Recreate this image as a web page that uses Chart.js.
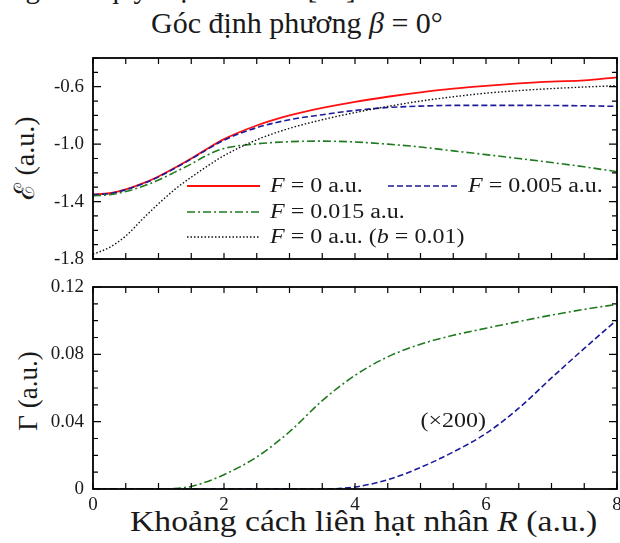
<!DOCTYPE html>
<html>
<head>
<meta charset="utf-8">
<script src="https://cdn.jsdelivr.net/npm/chart.js@4.4.1/dist/chart.umd.min.js"></script>
<style>
	body { margin: 0; width: 620px; height: 543px; overflow: hidden; background: #fff; position: relative; font-family: "Liberation Serif", "DejaVu Serif", serif; color: #1a1a1a; }
	.txt { position: absolute; white-space: nowrap; line-height: 1; }
	canvas { position: absolute; left: 0; }
	#topWrap { position: absolute; left: 0; top: 40px; width: 620px; height: 235px; }
	#botWrap { position: absolute; left: 0; top: 275px; width: 620px; height: 268px; }
</style>
</head>
<body>
<div class="txt" style="right:257px; top:-26px; font-size:29px;">ng theo quy luật hàm mũ [18].</div>
<div class="txt" style="left:151px; top:8px; font-size:30px;">Góc định phương <i>β</i> = 0°</div>
<div class="txt" style="left:25px; top:158px; font-size:28px; transform:translate(-50%,-50%) rotate(-90deg);">ℰ (a.u.)</div>
<div class="txt" style="left:28px; top:391px; font-size:27px; transform:translate(-50%,-50%) rotate(-90deg);">Γ (a.u.)</div>
<div class="txt" id="xTitle" style="left:130px; top:506px; font-size:30px; transform-origin:left top;">Khoảng cách liên hạt nhân <i>R</i> (a.u.)</div>

<div id="topWrap"><canvas id="energy"></canvas></div>
<div id="botWrap"><canvas id="width"></canvas></div>

<script>
// R (a.u.) sampling used for the curves
const rTop = [0, 0.25, 0.5, 0.75, 1, 1.25, 1.5, 1.75, 2, 2.5, 3, 3.5, 4, 4.5, 5, 5.5, 6, 6.5, 7, 7.5, 8];
const energyF0 = [-1.350, -1.342, -1.315, -1.275, -1.225, -1.165, -1.100, -1.030, -0.965, -0.870, -0.800, -0.748, -0.705, -0.670, -0.640, -0.614, -0.594, -0.577, -0.564, -0.556, -0.535];
const energyF005 = [-1.352, -1.344, -1.318, -1.278, -1.228, -1.168, -1.103, -1.035, -0.972, -0.885, -0.830, -0.795, -0.765, -0.745, -0.735, -0.730, -0.730, -0.730, -0.731, -0.733, -0.737];
const energyF015 = [-1.360, -1.352, -1.330, -1.295, -1.250, -1.195, -1.138, -1.075, -1.030, -0.998, -0.983, -0.979, -0.985, -1.000, -1.020, -1.047, -1.073, -1.100, -1.128, -1.158, -1.192];
const energyB001 = [-1.767, -1.720, -1.640, -1.525, -1.415, -1.315, -1.230, -1.152, -1.080, -0.970, -0.890, -0.830, -0.780, -0.737, -0.700, -0.670, -0.645, -0.627, -0.613, -0.602, -0.593];

const rBottom = [0, 0.5, 1, 1.25, 1.5, 1.75, 2, 2.5, 3, 3.5, 4, 4.5, 5, 5.5, 6, 6.5, 7, 7.5, 8];
const gammaF015 = [0, 0, 0, 0.0003, 0.0015, 0.0045, 0.0085, 0.019, 0.034, 0.0525, 0.0675, 0.0785, 0.086, 0.0913, 0.0955, 0.0995, 0.1033, 0.1067, 0.1097];
const gammaF005x200 = [0, 0, 0, 0, 0, 0, 0, 0, 0, 0, 0.0012, 0.0055, 0.0128, 0.022, 0.033, 0.048, 0.066, 0.0835, 0.1005];

const topYTicks = [-1.8, -1.4, -1.0, -0.6];
const bottomYTicks = [0, 0.04, 0.08, 0.12];
const xTickLabels = [0, 2, 4, 6, 8];
const legendLabels = [
	[["F", "italic"], [" = 0 a.u.", "normal"]],
	[["F", "italic"], [" = 0.005 a.u.", "normal"]],
	[["F", "italic"], [" = 0.015 a.u.", "normal"]],
	[["F", "italic"], [" = 0 a.u. (", "normal"], ["b", "italic"], [" = 0.01)", "normal"]],
];
const noteText = "(×200)";

const RED = "#ff1010";
const BLUE = "#1a1a9a";
const GREEN = "#1f7a1f";
const BLACK = "#111";
const serif = '"Liberation Serif", "DejaVu Serif", serif';

function points(xs, ys) {
	return xs.map((x, i) => ({ x: x, y: ys[i] }));
}

function line(data, color, dash, width) {
	return {
		data: data,
		borderColor: color,
		borderDash: dash,
		borderWidth: width,
		pointRadius: 0,
		fill: false,
		cubicInterpolationMode: "monotone",
	};
}

function range(from, to, step) {
	const out = [];
	for (let v = from; v <= to + 1e-9; v += step) out.push(Math.round(v * 1000) / 1000);
	return out;
}

// inward tick marks on all four sides plus the box
const framePlugin = {
	id: "frame",
	afterDatasetsDraw(chart, args, opts) {
		const { ctx, chartArea: a, scales } = chart;
		const x = scales.x;
		const y = scales.y;
		ctx.save();
		ctx.strokeStyle = "#000";
		ctx.lineWidth = 1.2;
		ctx.beginPath();
		for (const v of opts.xMinor) {
			const px = x.getPixelForValue(v);
			ctx.moveTo(px, a.bottom);
			ctx.lineTo(px, a.bottom - 6);
			ctx.moveTo(px, a.top);
			ctx.lineTo(px, a.top + 6);
		}
		for (const v of opts.yMinor) {
			const py = y.getPixelForValue(v);
			const len = opts.yMajor.some((m) => Math.abs(m - v) < 1e-6) ? 8 : 5;
			ctx.moveTo(a.left, py);
			ctx.lineTo(a.left + len, py);
			ctx.moveTo(a.right, py);
			ctx.lineTo(a.right - len, py);
		}
		ctx.stroke();
		ctx.lineWidth = 1.8;
		ctx.strokeRect(a.left, a.top, a.right - a.left, a.bottom - a.top);
		ctx.restore();
	},
};

function drawRich(ctx, segs, x, y, size, stretch) {
	ctx.save();
	ctx.translate(x, y);
	ctx.scale(stretch, 1);
	let cx = 0;
	for (const [txt, style] of segs) {
		ctx.font = style + " " + size + "px " + serif;
		ctx.fillText(txt, cx, 0);
		cx += ctx.measureText(txt).width;
	}
	ctx.restore();
}

const legendPlugin = {
	id: "legendBox",
	afterDraw(chart) {
		const ctx = chart.ctx;
		const rows = [
			{ x0: 187, x1: 260, tx: 270, y: 146, color: RED, dash: [], w: 1.8 },
			{ x0: 388, x1: 460, tx: 468, y: 146, color: BLUE, dash: [6, 3], w: 1.6 },
			{ x0: 187, x1: 260, tx: 270, y: 172, color: GREEN, dash: [8, 3, 2, 3], w: 1.6 },
			{ x0: 187, x1: 260, tx: 270, y: 197, color: BLACK, dash: [1.5, 2], w: 1.4 },
		];
		ctx.save();
		rows.forEach((r, i) => {
			ctx.strokeStyle = r.color;
			ctx.lineWidth = r.w;
			ctx.setLineDash(r.dash);
			ctx.beginPath();
			ctx.moveTo(r.x0, r.y);
			ctx.lineTo(r.x1, r.y);
			ctx.stroke();
			ctx.fillStyle = "#1a1a1a";
			ctx.textBaseline = "middle";
			drawRich(ctx, legendLabels[i], r.tx, r.y + 1, 20, 1.2);
		});
		ctx.restore();
	},
};

const notePlugin = {
	id: "note",
	afterDraw(chart) {
		const { ctx, scales } = chart;
		const px = scales.x.getPixelForValue(5.5);
		const py = scales.y.getPixelForValue(0.04);
		ctx.save();
		ctx.fillStyle = "#1a1a1a";
		ctx.textBaseline = "middle";
		ctx.font = "20px " + serif;
		const w = ctx.measureText(noteText).width * 1.2;
		drawRich(ctx, [[noteText, "normal"]], px - w / 2, py, 20, 1.2);
		ctx.restore();
	},
};

const tickFont = { family: serif, size: 19 };

function yScale(min, max, ticksList, fmt) {
	return {
		type: "linear",
		min: min,
		max: max,
		afterBuildTicks(s) {
			s.ticks = ticksList.map((v) => ({ value: v }));
		},
		afterFit(s) {
			s.width = 93;
			s.paddingTop = 0;
			s.paddingBottom = 0;
		},
		ticks: { font: tickFont, color: "#1a1a1a", padding: 9, callback: fmt },
		grid: { display: false, drawTicks: false },
		border: { display: false },
	};
}

function drawCharts() {
	new Chart(document.getElementById("energy"), {
		type: "line",
		data: {
			datasets: [
				line(points(rTop, energyB001), BLACK, [1.5, 2], 1.4),
				line(points(rTop, energyF015), GREEN, [8, 3, 2, 3], 1.6),
				line(points(rTop, energyF005), BLUE, [6, 3], 1.6),
				line(points(rTop, energyF0), RED, [], 1.8),
			],
		},
		options: {
			responsive: true,
			maintainAspectRatio: false,
			animation: false,
			layout: { padding: { left: 0, right: 3, top: 18, bottom: 16 } },
			plugins: {
				legend: { display: false },
				tooltip: { enabled: false },
				frame: { xMinor: range(0, 8, 0.5), yMinor: range(-1.8, -0.4, 0.1), yMajor: topYTicks },
			},
			scales: {
				x: { type: "linear", min: 0, max: 8, display: false },
				y: yScale(-1.8, -0.4, topYTicks, (v) => v.toFixed(1)),
			},
		},
		plugins: [framePlugin, legendPlugin],
	});

	new Chart(document.getElementById("width"), {
		type: "line",
		data: {
			datasets: [
				line(points(rBottom, gammaF005x200), BLUE, [6, 3], 1.6),
				line(points(rBottom, gammaF015), GREEN, [8, 3, 2, 3], 1.6),
			],
		},
		options: {
			responsive: true,
			maintainAspectRatio: false,
			animation: false,
			layout: { padding: { left: 0, right: 3, top: 12, bottom: 24 } },
			plugins: {
				legend: { display: false },
				tooltip: { enabled: false },
				frame: { xMinor: range(0, 8, 0.5), yMinor: range(0, 0.12, 0.01), yMajor: bottomYTicks },
			},
			scales: {
				x: {
					type: "linear",
					min: 0,
					max: 8,
					afterBuildTicks(s) {
						s.ticks = xTickLabels.map((v) => ({ value: v }));
					},
					afterFit(s) {
						s.height = 30;
						s.paddingLeft = 0;
						s.paddingRight = 0;
					},
					ticks: { font: tickFont, color: "#1a1a1a", padding: 5, maxRotation: 0, autoSkip: false },
					grid: { display: false, drawTicks: false },
					border: { display: false },
				},
				y: yScale(0, 0.12, bottomYTicks, (v) => (v === 0 ? "0" : v.toFixed(2))),
			},
		},
		plugins: [framePlugin, notePlugin],
	});
}

// canvas text needs the serif face loaded before the first draw
Promise.all([
	document.fonts.load('19px "Liberation Serif"'),
	document.fonts.load('italic 20px "Liberation Serif"'),
]).then(drawCharts, drawCharts);

// the axis title in the picture is drawn wider than the font, stretch it to the same span
const xTitle = document.getElementById("xTitle");
xTitle.style.transform = "scaleX(" + (468 / xTitle.offsetWidth).toFixed(3) + ")";
</script>
</body>
</html>
